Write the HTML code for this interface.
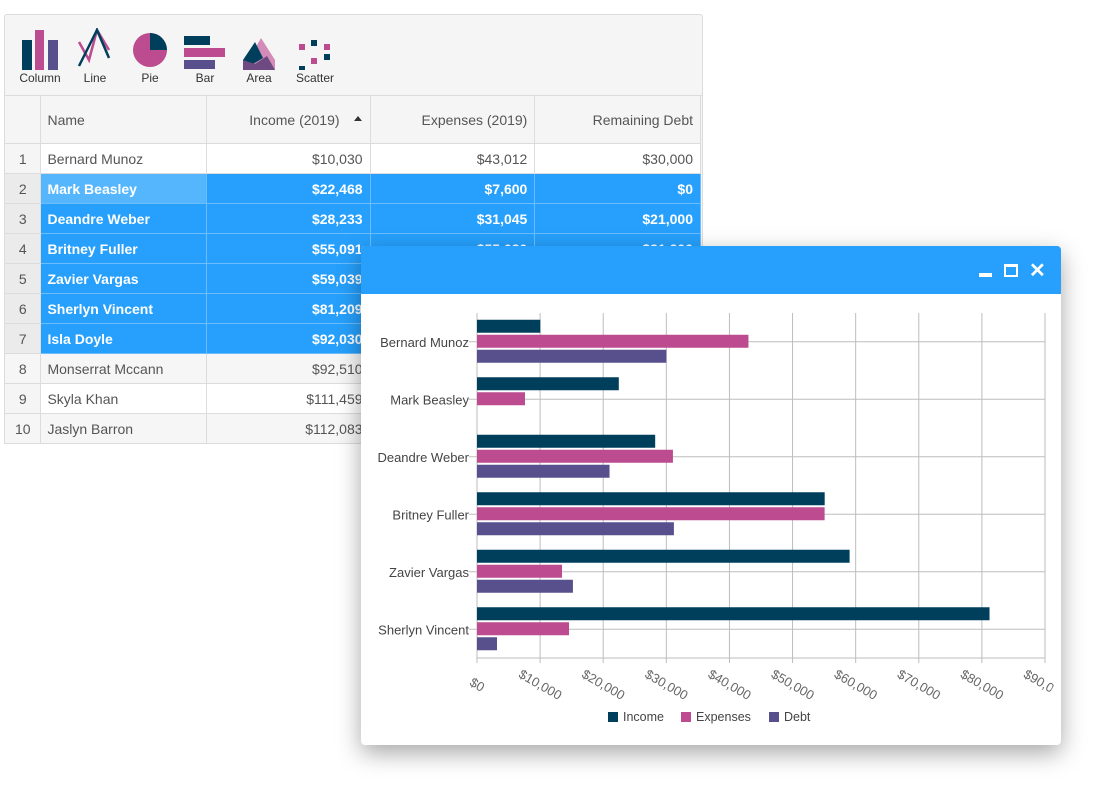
<!DOCTYPE html>
<html><head><meta charset="utf-8"><style>
body{margin:0;width:1117px;height:807px;background:#fff;font-family:"Liberation Sans",sans-serif;position:relative;overflow:hidden}
#grid{position:absolute;left:4px;top:14px;width:699px;height:430px;border:1px solid #dcdcdc;box-sizing:border-box;background:#f5f5f5;border-radius:3px 3px 0 0;overflow:hidden}
#toolbar{position:absolute;left:0;top:0;width:697px;height:81px;border-bottom:1px solid #dcdcdc;box-sizing:border-box}
.tb{position:absolute;top:13px;width:50px;height:60px;text-align:center;font-size:12px;color:#333}
.tb svg{display:block;margin:0 auto}
.tb span{position:absolute;left:0;right:0;top:43px}
table{position:absolute;left:-1px;top:80px;border-collapse:collapse;font-size:14px;color:#555}
td,th{border:1px solid #dcdcdc;height:30px;padding:0 7px 0 6px;box-sizing:border-box;white-space:nowrap}
th{height:48px;font-weight:normal;background:#f5f5f5;color:#555}
td{background:#fff}
td.i{width:37px;text-align:center;background:#f5f5f5;color:#555;padding:0}
tr.s td{background:#26a0fc;color:#fff;font-weight:bold;border-color:#6bbdfd}
tr.s td.i{background:#ebebeb;color:#555;font-weight:normal;border-color:#dcdcdc}
tr.s td.n1{background:#56b6fd}
tr.g td{background:#f6f6f6}
.r{text-align:right}
#win{position:absolute;left:361px;top:246px;width:700px;height:499px;background:#fff;border-radius:4px;box-shadow:0 8px 24px rgba(0,0,0,.35);overflow:hidden}
#wh{position:absolute;left:0;top:0;width:700px;height:48px;background:#26a0fc}
</style></head><body>
<div id="grid">
<div id="toolbar">
<div class="tb" style="left:10px"><svg width="40" height="42"><rect x="2" y="12" width="10" height="30" fill="#003f5c"/><rect x="15" y="2" width="9" height="40" fill="#bc4b8f"/><rect x="28" y="12" width="10" height="30" fill="#58508d"/></svg><span>Column</span></div>
<div class="tb" style="left:65px"><svg width="40" height="42"><polyline points="4,14 14,32 22,2 34,22" fill="none" stroke="#bc4b8f" stroke-width="2.5"/><polyline points="4,38 14,18 22,2 34,30" fill="none" stroke="#003f5c" stroke-width="2.5"/></svg><span>Line</span></div>
<div class="tb" style="left:120px"><svg width="40" height="42"><circle cx="20" cy="22" r="17" fill="#bc4b8f"/><path d="M20,22 L20,5 A17,17 0 0 1 37,22 Z" fill="#003f5c"/></svg><span>Pie</span></div>
<div class="tb" style="left:175px"><svg width="46" height="42"><rect x="2" y="8" width="26" height="9" fill="#003f5c"/><rect x="2" y="20" width="41" height="9" fill="#bc4b8f"/><rect x="2" y="32" width="31" height="9" fill="#58508d"/></svg><span>Bar</span></div>
<div class="tb" style="left:229px"><svg width="40" height="42"><polygon points="22,10 36,32 36,42 4,42" fill="#d28cb7"/><polygon points="16,14 24,30 4,42 4,32" fill="#003f5c"/><polygon points="4,32 16,36 28,28 36,42 4,42" fill="#6e4a82"/></svg><span>Area</span></div>
<div class="tb" style="left:285px"><svg width="40" height="42"><rect x="4" y="16" width="6" height="6" fill="#bc4b8f"/><rect x="16" y="12" width="6" height="6" fill="#003f5c"/><rect x="29" y="16" width="6" height="6" fill="#bc4b8f"/><rect x="29" y="26" width="6" height="6" fill="#003f5c"/><rect x="16" y="30" width="6" height="6" fill="#bc4b8f"/><rect x="4" y="38" width="6" height="6" fill="#003f5c"/></svg><span>Scatter</span></div>
</div>
<table>
<tr><th style="width:37px"></th><th style="width:166px;text-align:left">Name</th><th class="r" style="width:165px;padding-right:30px;position:relative">Income (2019)<span style="position:absolute;right:8px;top:20px;width:0;height:0;border-left:4px solid transparent;border-right:4px solid transparent;border-bottom:5px solid #333"></span></th><th class="r" style="width:166px">Expenses (2019)</th><th class="r" style="width:167px">Remaining Debt</th></tr>
<tr><td class="i">1</td><td>Bernard Munoz</td><td class="r">$10,030</td><td class="r">$43,012</td><td class="r">$30,000</td></tr>
<tr class="s"><td class="i">2</td><td class="n1">Mark Beasley</td><td class="r">$22,468</td><td class="r">$7,600</td><td class="r">$0</td></tr>
<tr class="s"><td class="i">3</td><td>Deandre Weber</td><td class="r">$28,233</td><td class="r">$31,045</td><td class="r">$21,000</td></tr>
<tr class="s"><td class="i">4</td><td>Britney Fuller</td><td class="r">$55,091</td><td class="r">$55,080</td><td class="r">$31,200</td></tr>
<tr class="s"><td class="i">5</td><td>Zavier Vargas</td><td class="r">$59,039</td><td class="r">$13,470</td><td class="r">$15,200</td></tr>
<tr class="s"><td class="i">6</td><td>Sherlyn Vincent</td><td class="r">$81,209</td><td class="r">$14,580</td><td class="r">$3,170</td></tr>
<tr class="s"><td class="i">7</td><td>Isla Doyle</td><td class="r">$92,030</td><td class="r">$20,000</td><td class="r">$0</td></tr>
<tr class="g"><td class="i">8</td><td>Monserrat Mccann</td><td class="r">$92,510</td><td class="r">$10,000</td><td class="r">$0</td></tr>
<tr><td class="i">9</td><td>Skyla Khan</td><td class="r">$111,459</td><td class="r">$20,000</td><td class="r">$0</td></tr>
<tr class="g"><td class="i">10</td><td>Jaslyn Barron</td><td class="r">$112,083</td><td class="r">$20,000</td><td class="r">$0</td></tr>
</table>
</div>
<div id="win">
<div id="wh">
<div style="position:absolute;left:618px;top:27px;width:13px;height:4px;background:#fff"></div>
<div style="position:absolute;left:643px;top:18px;width:10px;height:8px;border:2px solid #fff;border-top-width:3px"></div>
<div style="position:absolute;left:668px;top:12px;color:#fff;font-size:20px;font-weight:bold">✕</div>
</div>
<svg id="chart" width="700" height="499" style="position:absolute;left:0;top:0"></svg>
</div>
<script>
const categories=["Bernard Munoz","Mark Beasley","Deandre Weber","Britney Fuller","Zavier Vargas","Sherlyn Vincent"];
const income=[10030,22468,28233,55091,59039,81209];
const expenses=[43012,7600,31045,55080,13470,14580];
const debt=[30000,0,21000,31200,15200,3170];
const ticks=[0,10000,20000,30000,40000,50000,60000,70000,80000,90000];
const tickLabels=["$0","$10,000","$20,000","$30,000","$40,000","$50,000","$60,000","$70,000","$80,000","$90,000"];
const seriesNames=["Income","Expenses","Debt"];
const colors=["#003f5c","#bc4b8f","#58508d"];
const ns="http://www.w3.org/2000/svg";
const svg=document.getElementById('chart');
const X0=116,X1=684,Y0=67,Y1=412,MAX=90000;
const x=v=>X0+(v/MAX)*(X1-X0);
const band=(Y1-Y0)/categories.length;
const yc=i=>Y0+band*(i+0.5);
function mk(t,a){const e=document.createElementNS(ns,t);for(const k in a)e.setAttribute(k,a[k]);svg.appendChild(e);return e;}
const clip=mk('clipPath',{id:'c'});
const cr=document.createElementNS(ns,'rect');
cr.setAttribute('x',0);cr.setAttribute('y',0);cr.setAttribute('width',692);cr.setAttribute('height',499);
clip.appendChild(cr);
ticks.forEach((t,i)=>{
 const g=mk('line',{x1:x(t),x2:x(t),y1:Y0,y2:Y1+5,stroke:'#bdbdbd'});
 
 
 const cx=x(t),cy=Y1+27;
 const tx=mk('text',{x:cx,y:cy+4,'font-size':13,fill:'#666','text-anchor':'middle',transform:`rotate(30 ${cx} ${cy})`,'clip-path':'url(#c)'});
 tx.textContent=tickLabels[i];
 
 
});
categories.forEach((c,i)=>{
 const l=mk('line',{x1:X0-8,x2:X1,y1:yc(i),y2:yc(i),stroke:'#bdbdbd'});
 
 
 const t=mk('text',{x:X0-8,y:yc(i)+5,'font-size':13,fill:'#444','text-anchor':'end'});
 t.textContent=c;
 
 
});
mk('line',{x1:X0,x2:X1,y1:Y1,y2:Y1,stroke:'#bdbdbd'});
mk('line',{x1:X0,x2:X0,y1:Y0,y2:Y1,stroke:'#bdbdbd'});
[income,expenses,debt].forEach((s,k)=>{
 s.forEach((v,i)=>{
  const r=mk('rect',{x:X0,y:yc(i)-22+k*15,width:Math.max(0,x(v)-X0),height:13,fill:colors[k]});
  
  
 });
});
const lx=[247,320,408];
seriesNames.forEach((n,k)=>{
 const r=mk('rect',{x:lx[k],y:466,width:10,height:10,fill:colors[k]});
 
 
 const t=mk('text',{x:lx[k]+15,y:475,'font-size':12.5,fill:'#444'});
 t.textContent=n;
 
 
});
</script>
</body></html>
